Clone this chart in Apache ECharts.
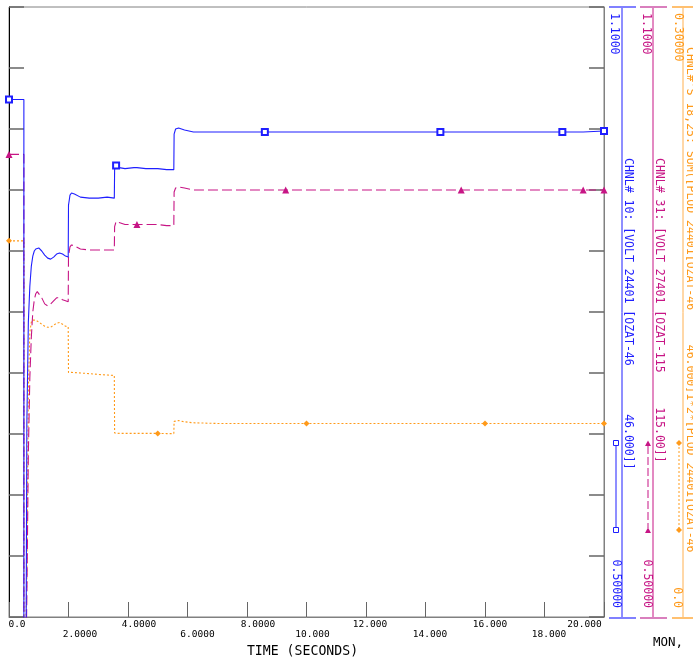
<!DOCTYPE html>
<html>
<head>
<meta charset="utf-8">
<script src="https://cdn.jsdelivr.net/npm/echarts@6/dist/echarts.min.js"></script>
<style>
html,body{margin:0;padding:0;background:#fff;}
#chart{width:693px;height:662px;}
</style>
</head>
<body>
<div id="chart"></div>
<script>
// ---- data ----
const times = [0, 0.5, 0.501, 0.56, 0.6, 0.65, 0.7, 0.75, 0.8, 0.85, 0.9, 0.95, 1.0, 1.1, 1.2, 1.3, 1.4, 1.5, 1.6, 1.7, 1.8, 1.9, 1.99,
  2.0, 2.05, 2.1, 2.2, 2.4, 2.7, 3.0, 3.3, 3.54, 3.55, 3.6, 3.7, 3.9, 4.2, 4.3, 4.6, 5.0, 5.3, 5.54,
  5.55, 5.6, 5.7, 5.9, 6.2, 7.0, 8.0, 8.6, 9.3, 10.0, 12.0, 14.5, 15.2, 16.0, 18.6, 19.3, 20.0];

// CHNL# 10: VOLT 24401
const chnl10 = [1.009, 1.009, 0.30, 0.35, 0.690, 0.790, 0.825, 0.845, 0.855, 0.860, 0.862, 0.863, 0.863, 0.860, 0.856, 0.853, 0.852, 0.854, 0.857, 0.858, 0.857, 0.855, 0.854,
  0.905, 0.915, 0.917, 0.916, 0.913, 0.912, 0.912, 0.913, 0.912, 0.940, 0.944, 0.942, 0.941, 0.942, 0.942, 0.941, 0.941, 0.940, 0.940,
  0.975, 0.980, 0.981, 0.979, 0.977, 0.977, 0.977, 0.977, 0.977, 0.977, 0.977, 0.977, 0.977, 0.977, 0.977, 0.977, 0.978];

// CHNL# 31: VOLT 27401
const chnl31 = [0.955, 0.955, 0.30, 0.30, 0.52, 0.66, 0.735, 0.775, 0.800, 0.812, 0.818, 0.820, 0.819, 0.814, 0.808, 0.806, 0.808, 0.811, 0.814, 0.814, 0.812, 0.811, 0.810,
  0.855, 0.864, 0.866, 0.865, 0.862, 0.861, 0.861, 0.861, 0.861, 0.884, 0.889, 0.888, 0.886, 0.886, 0.886, 0.886, 0.886, 0.885, 0.885,
  0.918, 0.922, 0.923, 0.922, 0.920, 0.920, 0.920, 0.920, 0.920, 0.920, 0.920, 0.920, 0.920, 0.920, 0.920, 0.920, 0.920];

// CHNL#'S 18,25: SUM(PLOD ...)
const chnl18_25 = [0.185, 0.185, -0.05, -0.05, 0.02, 0.11, 0.140, 0.145, 0.146, 0.1465, 0.146, 0.1455, 0.145, 0.144, 0.143, 0.1425, 0.1425, 0.1435, 0.1445, 0.1448, 0.144, 0.143, 0.1428,
  0.1203, 0.1203, 0.1203, 0.1202, 0.1200, 0.1197, 0.1193, 0.1190, 0.1188, 0.0905, 0.0903, 0.0903, 0.0903, 0.0903, 0.0903, 0.0903, 0.0903, 0.0902, 0.0902,
  0.0962, 0.0967, 0.0966, 0.0960, 0.0955, 0.0952, 0.0952, 0.0952, 0.0952, 0.0952, 0.0952, 0.0952, 0.0952, 0.0952, 0.0952, 0.0952, 0.0952];

const markT10 = [0, 3.6, 8.6, 14.5, 18.6, 20.0];
const markT31 = [0, 4.3, 9.3, 15.2, 19.3, 20.0];
const markT18 = [0, 5.0, 10.0, 16.0, 20.0];

const xTickLabels = ['0.0', '2.0000', '4.0000', '6.0000', '8.0000', '10.000', '12.000', '14.000', '16.000', '18.000', '20.000'];
const scale10 = {min: 0.5, max: 1.1, top: '1.1000', bottom: '0.50000'};
const scale31 = {min: 0.5, max: 1.1, top: '1.1000', bottom: '0.50000'};
const scale18 = {min: 0.0, max: 0.3, top: '0.30000', bottom: '0.0'};
const title10 = 'CHNL# 10: [VOLT 24401 [OZAT-46       46.000]]';
const title31 = 'CHNL# 31: [VOLT 27401 [OZAT-115     115.00]]';
const title18 = "CHNL#'S 18,25: SUM([PLOD 24401[OZAT-46     46.000]1*2*[PLOD 24401[OZAT-46";
const xTitle = 'TIME (SECONDS)';
const footText = 'MON,';

// ---- styling ----
const BLUE = '#1f1fff', MAG = '#c71585', ORG = '#ff9a1a';
const MONO = '"DejaVu Sans Mono", monospace';
const xLabelShift = [8, 11.5, 11, 10, 11, 6, 4, 4.5, 5, 4.5, -19.5];

const rich = {};
xLabelShift.forEach((s, i) => {
  const top = (i % 2) ? 10 : 0;
  rich['s' + i] = {
    fontFamily: MONO, fontSize: 9.5, color: '#000',
    padding: s >= 0 ? [top, 0, 0, 2 * s] : [top, -2 * s, 0, 0]
  };
});

function build(vals, marks, sym, size) {
  return times.map((t, i) => marks.indexOf(t) >= 0
    ? {value: [t, vals[i]], symbol: sym, symbolSize: size}
    : [t, vals[i]]);
}

function vtext(x, y, text, color, align, size) {
  return {
    type: 'text', x: x, y: y, rotation: -Math.PI / 2, silent: true,
    style: {text: text, fill: color, font: (size || 11.5) + 'px ' + MONO,
      align: align, textAlign: align, verticalAlign: 'middle', textVerticalAlign: 'middle'}
  };
}
function vline(x, y1, y2, color, w, dash) {
  return {type: 'line', silent: true, shape: {x1: x, y1: y1, x2: x, y2: y2},
    style: {stroke: color, lineWidth: w || 1, lineDash: dash || null}};
}
function hline(x1, x2, y, color, w) {
  return {type: 'line', silent: true, shape: {x1: x1, y1: y, x2: x2, y2: y},
    style: {stroke: color, lineWidth: w || 1}};
}

const graphics = [
  // blue axis
  vline(622, 7, 618, BLUE), hline(609, 636, 7, '#8080ff', 2), hline(609, 636, 618, '#8080ff', 2),
  vtext(614, 13, scale10.top, BLUE, 'left'), vtext(615.5, 608, scale10.bottom, BLUE, 'right'),
  vtext(628, 158, title10, BLUE, 'left'),
  vline(616, 443, 530, BLUE),
  {type: 'rect', silent: true, shape: {x: 613.5, y: 440.5, width: 5, height: 5}, style: {fill: '#fff', stroke: BLUE}},
  {type: 'rect', silent: true, shape: {x: 613.5, y: 527.5, width: 5, height: 5}, style: {fill: '#fff', stroke: BLUE}},
  // magenta axis
  vline(653, 7, 618, MAG), hline(640, 667, 7, '#d97fbd', 2), hline(640, 667, 618, '#d97fbd', 2),
  vtext(646, 13, scale31.top, MAG, 'left'), vtext(647, 608, scale31.bottom, MAG, 'right'),
  vtext(659, 158, title31, MAG, 'left'),
  vline(648, 446, 528, MAG, 1, [8, 3]),
  {type: 'polygon', silent: true, shape: {points: [[648, 440.5], [645, 446], [651, 446]]}, style: {fill: MAG}},
  {type: 'polygon', silent: true, shape: {points: [[648, 527.5], [645, 533], [651, 533]]}, style: {fill: MAG}},
  // orange axis
  vline(683, 7, 618, '#ffb050'), hline(672, 693, 7, '#ffc070', 2), hline(672, 693, 618, '#ffc070', 2),
  vtext(677.5, 13, scale18.top, ORG, 'left'), vtext(677, 608, scale18.bottom, ORG, 'right'),
  vtext(689.5, 47, title18, ORG, 'left'),
  vline(679, 443, 530, ORG, 1, [2, 2]),
  {type: 'polygon', silent: true, shape: {points: [[679, 440], [682, 443], [679, 446], [676, 443]]}, style: {fill: ORG}},
  {type: 'polygon', silent: true, shape: {points: [[679, 527], [682, 530], [679, 533], [676, 530]]}, style: {fill: ORG}},
  // bottom texts
  {type: 'text', x: 302.5, y: 652, silent: true, style: {text: xTitle, fill: '#000', font: '13.2px ' + MONO,
    align: 'center', textAlign: 'center', verticalAlign: 'middle', textVerticalAlign: 'middle'}},
  {type: 'text', x: 668, y: 643, silent: true, style: {text: footText, fill: '#000', font: '12.5px ' + MONO,
    align: 'center', textAlign: 'center', verticalAlign: 'middle', textVerticalAlign: 'middle'}}
];

const chart = echarts.init(document.getElementById('chart'), null, {renderer: 'canvas'});
chart.setOption({
  animation: false,
  backgroundColor: '#fff',
  grid: {left: 9, right: 89, top: 7, bottom: 45, show: true, borderColor: '#808080', borderWidth: 1, containLabel: false},
  xAxis: [{
    type: 'value', min: 0, max: 20, interval: 2, position: 'bottom',
    axisLine: {show: true, lineStyle: {color: '#808080', width: 1}},
    axisTick: {show: true, inside: true, length: 15, lineStyle: {color: '#666', width: 1}},
    splitLine: {show: false},
    axisLabel: {
      show: true, margin: 3, verticalAlign: 'top', showMinLabel: true, showMaxLabel: true,
      fontFamily: MONO, fontSize: 9.5, color: '#000', rich: rich,
      formatter: function (v, i) { return '{s' + i + '|' + xTickLabels[i] + '}'; }
    }
  }],
  yAxis: [
    {type: 'value', min: 0, max: 10, interval: 1, position: 'left',
      axisLine: {show: true, lineStyle: {color: '#000', width: 1}},
      axisTick: {show: true, inside: true, length: 15, lineStyle: {color: '#666', width: 1.5}},
      axisLabel: {show: false}, splitLine: {show: false}},
    {type: 'value', min: 0, max: 10, interval: 1, position: 'right',
      axisLine: {show: true, lineStyle: {color: '#808080', width: 1}},
      axisTick: {show: true, inside: true, length: 15, lineStyle: {color: '#666', width: 1.5}},
      axisLabel: {show: false}, splitLine: {show: false}},
    {type: 'value', min: scale10.min, max: scale10.max, show: false},
    {type: 'value', min: scale18.min, max: scale18.max, show: false}
  ],
  graphic: graphics,
  series: [
    {type: 'line', name: 'CHNL 10', yAxisIndex: 2, clip: true, symbol: 'none', showSymbol: true,
      data: build(chnl10, markT10, 'emptyRect', 6),
      lineStyle: {color: BLUE, width: 1.1}, itemStyle: {color: BLUE, borderColor: BLUE, borderWidth: 1}, z: 4},
    {type: 'line', name: 'CHNL 31', yAxisIndex: 2, clip: true, symbol: 'none', showSymbol: true,
      data: build(chnl31, markT31, 'triangle', 7),
      lineStyle: {color: MAG, width: 1.1, type: [10, 4]}, itemStyle: {color: MAG}, z: 3},
    {type: 'line', name: 'CHNL 18,25', yAxisIndex: 3, clip: true, symbol: 'none', showSymbol: true,
      data: build(chnl18_25, markT18, 'diamond', 6),
      lineStyle: {color: ORG, width: 1.1, type: [2, 2]}, itemStyle: {color: ORG}, z: 2}
  ]
});
</script>
</body>
</html>
